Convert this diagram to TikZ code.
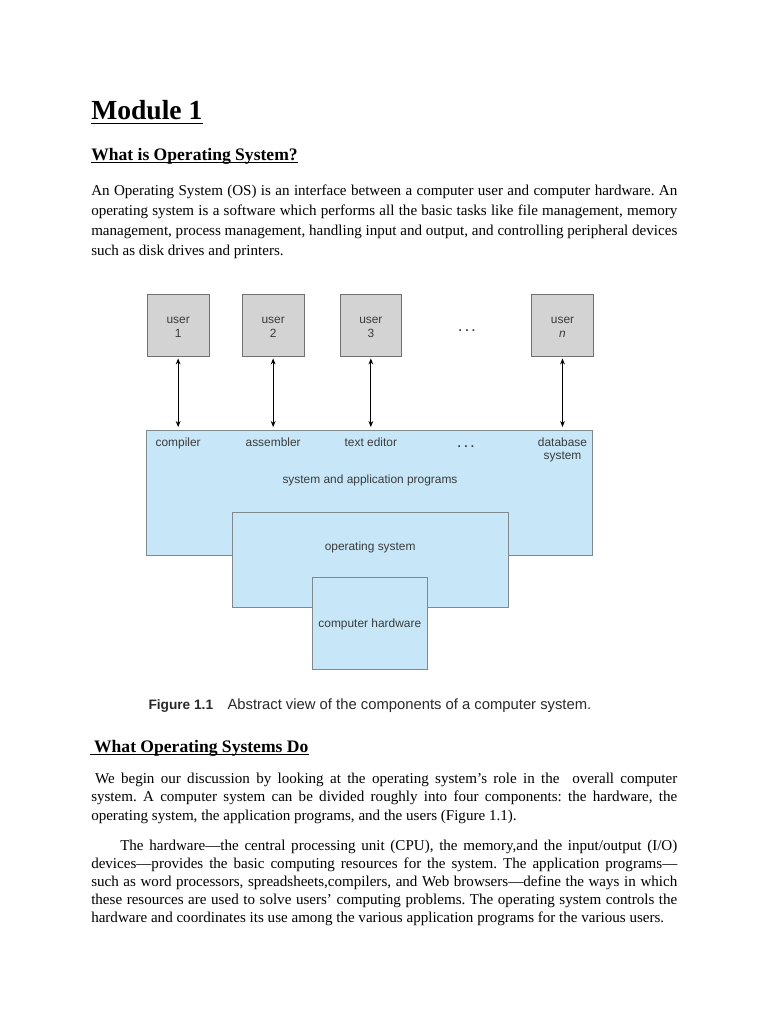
\documentclass[tikz,border=0pt]{standalone}
\usepackage{fontspec}
\setmainfont{Liberation Serif}
\newfontfamily\diagfont{Liberation Sans}
\usetikzlibrary{fit,arrows.meta}
\definecolor{ubox}{HTML}{D3D3D3}
\definecolor{uedge}{HTML}{707070}
\definecolor{bbox}{HTML}{C7E7F8}
\definecolor{bedge}{HTML}{7F8A90}
\definecolor{dtext}{HTML}{3A3A3A}
\definecolor{captext}{HTML}{2A2A2A}
\frenchspacing
\tikzset{
  txt/.style={inner sep=0, anchor=base west, font=\fontsize{12}{14}\selectfont},
  heading/.style={inner sep=0, anchor=base west, font=\fontsize{14}{16}\selectfont\bfseries},
  userbox/.style={draw=uedge, fill=ubox, line width=0.7pt, inner sep=0},
  bluebox/.style={draw=bedge, fill=bbox, line width=0.7pt, inner sep=0},
  dlabel/.style={inner sep=0, anchor=base, font=\diagfont\fontsize{9.5}{11}\selectfont, text=dtext},
  dotsl/.style={inner sep=0, anchor=base, font=\diagfont\bfseries\fontsize{9.5}{11}\selectfont, text=dtext},
  link/.style={{Stealth[length=4.8pt,width=3.8pt]}-{Stealth[length=4.8pt,width=3.8pt]}, line width=0.85pt, black, shorten <=1pt, shorten >=2pt},
  uline/.style={line width=0.75pt}
}
\begin{document}
\begin{tikzpicture}[x=0.796875pt,y=-0.796875pt]
\fill[white] (0,0) rectangle (768,1024);
\useasboundingbox (0,0) rectangle (768,1024);

% Title and first heading
\node[inner sep=0, anchor=base west, font=\fontsize{22}{26}\selectfont\bfseries] (title) at (91,119.5) {Module 1};
\draw[line width=1.5pt] ([yshift=-3.2pt]title.base west) -- ([yshift=-3.2pt]title.base east);
\node[heading] (h1) at (91,160.5) {What is Operating System?};
\draw[uline] ([yshift=-1.8pt]h1.base west) -- ([yshift=-1.8pt]h1.base east);

% Paragraph 1
\node[txt] (p1a) at (91,195) {\makebox[467pt][s]{An Operating System (OS) is an interface between a computer user and computer hardware. An}};
\node[txt] (p1b) at (91,215.3) {\makebox[467pt][s]{operating system is a software which performs all the basic tasks like file management, memory}};
\node[txt] (p1c) at (91,235.6) {\makebox[467pt][s]{management, process management, handling input and output, and controlling peripheral devices}};
\node[txt] (p1d) at (91,255.9) {such as disk drives and printers.};

% Figure: user boxes
\node[userbox, fit={(147.3,294) (209,356.7)}] (u1) {};
\node[userbox, fit={(242.3,294) (304,356.7)}] (u2) {};
\node[userbox, fit={(340,294) (401.7,356.7)}] (u3) {};
\node[userbox, fit={(531.7,294) (593.3,356.7)}] (un) {};
\node[dlabel] (u1a) at (u1.center |- 0,323.5) {user};
\node[dlabel] (u1b) at (u1.center |- 0,337.5) {1};
\node[dlabel] (u2a) at (u2.center |- 0,323.5) {user};
\node[dlabel] (u2b) at (u2.center |- 0,337.5) {2};
\node[dlabel] (u3a) at (u3.center |- 0,323.5) {user};
\node[dlabel] (u3b) at (u3.center |- 0,337.5) {3};
\node[dlabel] (una) at (un.center |- 0,323.5) {user};
\node[dlabel] (unb) at (un.center |- 0,337.5) {\itshape n};
\node[dotsl] (udots) at (467,331) {.\ .\ .};

% Figure: layered blue boxes
\node[bluebox, fit={(146.7,430) (592.7,555)}] (apps) {};
\node[bluebox, fit={(232.3,512.5) (508,607.7)}] (os) {};
\node[bluebox, fit={(312.3,577.3) (427.3,669)}] (hw) {};

\node[dlabel] (comp) at (u1.center |- 0,446) {compiler};
\node[dlabel] (asm) at (u2.center |- 0,446) {assembler};
\node[dlabel] (ted) at (u3.center |- 0,446) {text editor};
\node[dotsl] (adots) at (466,447) {.\ .\ .};
\node[dlabel] (dba) at (un.center |- 0,446) {database};
\node[dlabel] (dbb) at (un.center |- 0,459.3) {system};
\node[dlabel] (sap) at (370,483.3) {system and application programs};
\node[dlabel] (osl) at (os.center |- 0,550) {operating system};
\node[dlabel] (hwl) at (hw.center |- 0,627.3) {computer hardware};

% Connectors
\draw[link] (u1.south) -- (u1.south |- apps.north);
\draw[link] (u2.south) -- (u2.south |- apps.north);
\draw[link] (u3.south) -- (u3.south |- apps.north);
\draw[link] (un.south) -- (un.south |- apps.north);

% Caption
\node[inner sep=0, anchor=base west, font=\diagfont\bfseries\fontsize{10.9}{13}\selectfont, text=captext] (capa) at (148.3,709) {Figure 1.1};
\node[inner sep=0, anchor=base west, font=\diagfont\fontsize{11.8}{14}\selectfont, text=captext] (capb) at (227.3,709) {Abstract view of the components of a computer system.};

% Second heading
\node[heading] (h2) at (89.5,752.5) {\hspace*{3.5pt}What Operating Systems Do};
\draw[uline] ([yshift=-1.8pt]h2.base west) -- ([yshift=-1.8pt]h2.base east);

% Paragraph 2
\node[txt] (p2a) at (91,783.5) {\makebox[467pt][s]{\hspace*{3pt}We begin our discussion by looking at the operating system’s role in the \ overall computer}};
\node[txt] (p2b) at (91,801.8) {\makebox[467pt][s]{system. A computer system can be divided roughly into four components: the hardware, the}};
\node[txt] (p2c) at (91,820) {operating system, the application programs, and the users (Figure 1.1).};

% Paragraph 3
\node[txt] (p3a) at (120,850.5) {\makebox[443.9pt][s]{The hardware—the central processing unit (CPU), the memory,and the input/output (I/O)}};
\node[txt] (p3b) at (91,868.6) {\makebox[467pt][s]{devices—provides the basic computing resources for the system. The application programs—}};
\node[txt] (p3c) at (91,886.7) {\makebox[467pt][s]{such as word processors, spreadsheets,compilers, and Web browsers—define the ways in which}};
\node[txt] (p3d) at (91,904.8) {\makebox[467pt][s]{these resources are used to solve users’ computing problems. The operating system controls the}};
\node[txt] (p3e) at (91,922.9) {hardware and coordinates its use among the various application programs for the various users.};
\end{tikzpicture}
\end{document}
